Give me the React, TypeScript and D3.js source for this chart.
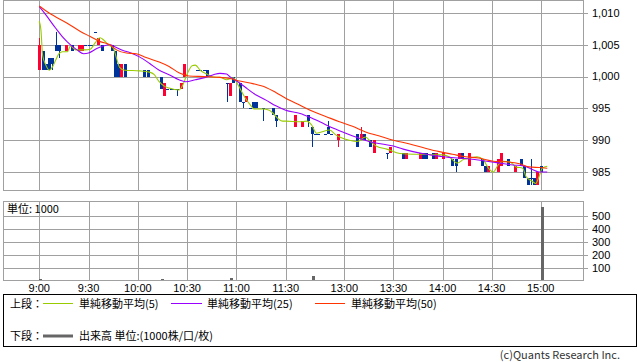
import * as React from 'react'
import * as d3 from 'd3'

// axis ticks
const priceTicks = [985, 990, 995, 1000, 1005, 1010]
const volumeTicks = [100, 200, 300, 400, 500]
const timeTicks = ['9:00', '9:30', '10:00', '10:30', '11:00', '11:30', '13:00', '13:30', '14:00', '14:30', '15:00']

// 2-minute candles
const candleTimes = [
  '9:00', '9:02', '9:04', '9:06', '9:08', '9:10', '9:12', '9:16', '9:20', '9:24',
  '9:26', '9:28', '9:30', '9:32', '9:34', '9:36', '9:38', '9:44', '9:46', '9:48',
  '9:50', '9:52', '9:56', '10:04', '10:06', '10:14', '10:16', '10:18', '10:20', '10:22',
  '10:24', '10:26', '10:28', '10:36', '10:38', '10:40', '10:42', '10:54', '10:56', '10:58',
  '11:02', '11:04', '11:06', '11:08', '11:10', '11:12', '11:16', '11:22', '11:24',
  '12:30', '12:34', '12:38', '12:40', '12:42', '12:44', '12:48', '12:50', '12:52', '12:56',
  '13:08', '13:10', '13:12', '13:16', '13:18', '13:26', '13:28', '13:36', '13:38', '13:46',
  '13:48', '13:50', '13:54', '13:56', '14:00', '14:06', '14:08', '14:10', '14:12', '14:16',
  '14:24', '14:26', '14:28', '14:34', '14:36', '14:40', '14:44', '14:48', '14:50', '14:52',
  '14:54', '14:56', '14:58', '15:00',
]
const opens = [
  1001, 1004, 1002, 1003, 1003, 1005, 1005, 1004, 1005, 1004,
  1004, 1005, 1005, 1005, 1007, 1005, 1005, 1005, 1004, 1002,
  1000, 1002, 1001, 1001, 1001, 1000, 997, 998, 998, 998,
  998, 998, 1000, 1001, 1001, 1001, 1001, 999, 997, 1000,
  999, 996, 996, 995, 996, 996, 995, 995, 994,
  992, 992, 994, 992, 991, 991, 991, 992, 991, 990,
  991, 990, 991, 990, 988, 988, 988, 988, 987, 987,
  988, 988, 988, 987, 987, 987, 987, 987, 988, 986,
  987, 986, 985, 985, 986, 987, 985, 987, 986, 984,
  984, 984, 983, 986,
]
const highs = [
  1006, 1004, 1002, 1003, 1003, 1007, 1005, 1005, 1005, 1005,
  1005, 1005, 1005, 1005, 1007, 1006, 1005, 1005, 1004, 1002,
  1002, 1002, 1001, 1001, 1001, 1000, 999, 998, 998, 998,
  998, 999, 1002, 1001, 1001, 1001, 1001, 999, 999, 1000,
  999, 996, 997, 995, 996, 996, 995, 995, 994,
  994, 993, 994, 992, 991, 991, 991, 993, 991, 991,
  991, 992, 991, 990, 990, 988, 989, 988, 988, 988,
  988, 988, 988, 988, 988, 987, 987, 988, 988, 988,
  987, 986, 986, 987, 988, 987, 986, 987, 986, 984,
  987, 984, 985, 986,
]
const lows = [
  1001, 1001, 1001, 1001, 1001, 1004, 1003, 1004, 1004, 1004,
  1004, 1005, 1005, 1005, 1007, 1005, 1004, 1004, 1000, 1000,
  1000, 1000, 1001, 1000, 1000, 998, 997, 998, 998, 998,
  997, 998, 1000, 1001, 1001, 1001, 1000, 996, 997, 999,
  996, 995, 996, 995, 995, 995, 993, 994, 992,
  992, 992, 992, 989, 991, 991, 991, 991, 991, 989,
  989, 990, 990, 989, 988, 987, 988, 987, 987, 987,
  987, 987, 987, 987, 987, 986, 985, 987, 987, 986,
  986, 985, 985, 985, 986, 986, 985, 986, 984, 983,
  983, 983, 983, 985,
]
const closes = [
  1005, 1001, 1001, 1001, 1002, 1004, 1004, 1005, 1004, 1005,
  1005, 1005, 1005, 1005, 1007, 1006, 1004, 1004, 1000, 1000,
  1002, 1000, 1001, 1000, 1000, 998, 999, 998, 998, 998,
  998, 999, 1002, 1001, 1001, 1001, 1000, 999, 999, 999,
  996, 996, 997, 995, 995, 995, 995, 994, 993,
  994, 993, 993, 991, 991, 991, 991, 991, 991, 991,
  989, 991, 990, 989, 990, 988, 989, 987, 988, 988,
  987, 987, 987, 988, 988, 986, 986, 988, 987, 988,
  986, 985, 986, 987, 988, 986, 986, 986, 984, 983,
  984, 983, 985, 985,
]

// volume (1000 shares)
const volumeTimes = ['9:00', '10:14', '10:56', '11:02', '11:04', '11:16', '11:26', '12:30', '12:40', '12:56', '13:18', '14:06', '14:08', '14:34', '14:36', '14:50', '14:52', '14:58', '15:00']
const volumes = [18, 18, 25, 15, 8, 10, 8, 8, 38, 8, 8, 8, 8, 8, 8, 8, 8, 8, 565]

// moving averages
const ma5Times = [
  '9:00', '9:01', '9:02', '9:04', '9:06', '9:08', '9:10', '9:12', '9:14', '9:17', '9:19', '9:22', '9:28', '9:31', '9:34',
  '9:37', '9:39', '9:42', '9:45', '9:47', '9:49', '9:52', '10:01', '10:07', '10:10', '10:13', '10:16', '10:19', '10:25',
  '10:27', '10:30', '10:33', '10:35', '10:38', '10:42', '10:46', '10:50', '10:54', '10:58', '11:01', '11:05', '11:08',
  '11:11', '11:16', '11:20', '11:28', '11:30', '12:33', '12:37', '12:40', '12:43', '12:46', '12:51', '12:55', '12:59',
  '13:03', '13:08', '13:13', '13:16', '13:20', '13:26', '13:34', '13:42', '13:48', '13:54', '14:00', '14:04', '14:09',
  '14:13', '14:17', '14:21', '14:25', '14:28', '14:31', '14:34', '14:37', '14:41', '14:45', '14:49', '14:51', '14:55',
  '14:57', '14:59', '15:01', '15:04',
]
const ma5Values = [
  1008.7, 1007.3, 1003.4, 1001.8, 1001.0, 1001.5, 1002.6, 1003.6, 1003.9, 1003.9, 1004.8, 1004.2, 1004.2, 1004.3, 1005.3,
  1006.1, 1005.8, 1005.0, 1004.5, 1002.9, 1001.4, 1001.0, 1000.9, 1000.7, 1000.3, 999.2, 998.5, 998.2, 997.9,
  998.5, 1000.4, 1001.7, 1001.8, 1001.0, 1000.4, 999.9, 999.9, 999.5, 999.8, 998.7, 996.8, 995.7,
  994.9, 994.9, 994.7, 993.0, 993.0, 992.9, 993.0, 992.4, 991.1, 991.3, 991.6, 990.8, 990.3,
  990.0, 989.8, 990.5, 989.8, 989.0, 988.6, 987.9, 987.8, 987.8, 987.7, 987.7, 987.4, 986.4,
  987.0, 987.2, 987.4, 986.9, 985.6, 985.0, 986.1, 986.7, 986.6, 985.8, 985.6, 984.3, 983.5,
  983.2, 984.3, 985.6, 985.9,
]
const ma25Times = [
  '9:00', '9:04', '9:10', '9:14', '9:19', '9:23', '9:27', '9:30', '9:35', '9:39', '9:43', '9:46', '9:51', '9:55', '10:01',
  '10:07', '10:13', '10:19', '10:25', '10:29', '10:35', '10:40', '10:46', '10:50', '10:54', '10:56', '11:02', '11:06',
  '11:12', '11:18', '11:24', '11:30', '12:33', '12:39', '12:45', '12:53', '12:59', '13:07', '13:15', '13:23', '13:30',
  '13:36', '13:42', '13:50', '13:58', '14:04', '14:10', '14:18', '14:27', '14:35', '14:43', '14:49', '14:55', '14:59', '15:04',
]
const ma25Values = [
  1011.0, 1009.7, 1007.6, 1006.3, 1005.0, 1004.2, 1003.6, 1003.7, 1004.4, 1004.8, 1005.0, 1004.7, 1004.1, 1003.8, 1003.1,
  1002.1, 1001.0, 1000.3, 999.5, 999.2, 999.5, 999.8, 1000.3, 1000.5, 1000.4, 1000.0, 999.0, 998.2,
  997.1, 996.3, 995.4, 994.7, 994.2, 993.6, 992.9, 991.9, 991.3, 990.5, 989.8, 989.4, 989.1,
  988.6, 988.2, 987.8, 987.5, 987.3, 987.2, 987.0, 986.7, 986.4, 986.1, 986.0, 985.4, 985.0, 985.0,
]
const ma50Times = [
  '9:00', '9:06', '9:17', '9:25', '9:31', '9:37', '9:43', '9:47', '9:53', '9:59', '10:05', '10:13', '10:19', '10:25',
  '10:31', '10:40', '10:48', '10:56', '11:02', '11:10', '11:18', '11:24', '11:30', '12:33', '12:41', '12:49', '12:57',
  '13:05', '13:13', '13:21', '13:30', '13:40', '13:50', '13:58', '14:06', '14:14', '14:22', '14:31', '14:39', '14:47',
  '14:53', '14:59', '15:04',
]
const ma50Values = [
  1011.1, 1010.0, 1008.4, 1007.1, 1006.3, 1005.5, 1005.0, 1004.2, 1003.7, 1003.6, 1003.0, 1002.3, 1001.6, 1000.6,
  1000.1, 1000.0, 999.9, 999.7, 999.3, 998.9, 998.3, 997.5, 996.6, 995.5, 994.5, 993.7, 992.9,
  992.2, 991.3, 990.7, 990.0, 989.4, 988.7, 988.2, 987.8, 987.4, 987.2, 986.7, 986.6, 986.3,
  985.8, 985.7, 985.6,
]

const toMin = (s: string) => {
  const [h, m] = s.split(':').map(Number)
  return h * 60 + m
}

const UP = '#ff0033'
const DOWN = '#003399'
const GRID = '#a0a0a0'
const FONT = '"Noto Sans CJK JP", "Noto Sans", sans-serif'
const NUM_FONT = '"Liberation Sans", Arial, sans-serif'

function App() {
  // morning and afternoon sessions share one axis; lunch break squeezed to a small gap
  const x = d3.scaleLinear().domain([540, 690, 750, 900]).range([39.3, 285.7, 295.2, 540.7])
  const y = d3.scaleLinear().domain([985, 1010]).range([172, 13])
  const yv = d3.scaleLinear().domain([0, 600]).range([281.5, 202.5])

  const left = 3.5
  const right = 583.5
  const top1 = 0.5
  const bottom1 = 190.5
  const top2 = 201.5
  const bottom2 = 280.5

  const crisp = (v: number) => Math.round(v) + 0.5

  const maLine = (times: string[], values: number[]) =>
    d3
      .line<number>()
      .x((d, i) => x(toMin(times[i])))
      .y((d) => y(d))
      .curve(d3.curveMonotoneX)(values) ?? ''

  const mas = [
    { times: ma5Times, values: ma5Values, color: '#99cc00' },
    { times: ma25Times, values: ma25Values, color: '#9900ff' },
    { times: ma50Times, values: ma50Values, color: '#ff3300' },
  ]

  return (
    <svg width={638} height={362} style={{ position: 'absolute', left: 0, top: 0, background: '#fff' }} fontFamily={FONT}>
      <rect width={638} height={362} fill="#fff" />

      {/* grids */}
      <g stroke={GRID} strokeWidth={1} shapeRendering="crispEdges">
        {priceTicks.map((p) => (
          <line key={'p' + p} x1={left} x2={right + 4} y1={crisp(y(p))} y2={crisp(y(p))} />
        ))}
        {volumeTicks.map((v) => (
          <line key={'v' + v} x1={left} x2={right + 4} y1={crisp(yv(v))} y2={crisp(yv(v))} />
        ))}
        {timeTicks.map((t) => (
          <g key={'t' + t}>
            <line x1={crisp(x(toMin(t)))} x2={crisp(x(toMin(t)))} y1={top1} y2={bottom1} />
            <line x1={crisp(x(toMin(t)))} x2={crisp(x(toMin(t)))} y1={top2} y2={bottom2} />
          </g>
        ))}
        <rect x={left} y={top1} width={right - left} height={bottom1 - top1} fill="none" />
        <rect x={left} y={top2} width={right - left} height={bottom2 - top2} fill="none" />
      </g>

      {/* candles */}
      <g shapeRendering="crispEdges">
        {candleTimes.map((t, i) => {
          const cx = Math.round(x(toMin(t)))
          const o = opens[i]
          const c = closes[i]
          const color = c > o ? UP : DOWN
          const yTop = Math.round(y(Math.max(o, c)))
          const yBot = Math.round(y(Math.min(o, c)))
          return (
            <g key={'c' + i} fill={color}>
              <rect x={cx} y={Math.round(y(highs[i]))} width={1} height={Math.max(1, Math.round(y(lows[i])) - Math.round(y(highs[i])))} />
              <rect x={cx - 1} y={yTop} width={3} height={Math.max(1, yBot - yTop)} />
            </g>
          )
        })}
      </g>

      {/* moving averages */}
      {mas.map((m, i) => (
        <path key={'ma' + i} d={maLine(m.times, m.values)} fill="none" stroke={m.color} strokeWidth={1.1} />
      ))}

      {/* volume */}
      <g fill="#666" shapeRendering="crispEdges">
        {volumeTimes.map((t, i) => (
          <rect key={'vol' + i} x={Math.round(x(toMin(t)))} y={yv(volumes[i])} width={3} height={280 - yv(volumes[i])} />
        ))}
      </g>

      {/* axes labels */}
      <g fontSize={11} fill="#000" fontFamily={NUM_FONT}>
        {priceTicks.map((p) => (
          <text key={'pl' + p} x={592} y={y(p)} dy="0.35em">
            {d3.format(',')(p)}
          </text>
        ))}
        {volumeTicks.map((v) => (
          <text key={'vl' + v} x={592} y={yv(v)} dy="0.35em">
            {v}
          </text>
        ))}
        {timeTicks.map((t) => (
          <text key={'tl' + t} x={x(toMin(t))} y={292} textAnchor="middle">
            {t}
          </text>
        ))}
      </g>
      <text x={7} y={213} fontSize={11}>単位: 1000</text>

      {/* legend */}
      <rect x={3.5} y={294.5} width={632.5} height={51.5} fill="none" stroke="#000" strokeWidth={1} shapeRendering="crispEdges" />
      <g fontSize={11} fill="#000">
        <text x={10} y={308}>上段：</text>
        <line x1={43} x2={73} y1={303.5} y2={303.5} stroke="#99cc00" />
        <text x={79} y={308}>単純移動平均(5)</text>
        <line x1={171} x2={202} y1={303.5} y2={303.5} stroke="#9900ff" />
        <text x={207} y={308}>単純移動平均(25)</text>
        <line x1={315} x2={345} y1={303.5} y2={303.5} stroke="#ff3300" />
        <text x={351} y={308}>単純移動平均(50)</text>
        <text x={10} y={340}>下段：</text>
        <line x1={43} x2={73} y1={336} y2={336} stroke="#666" strokeWidth={3} />
        <text x={79} y={340}>出来高 単位:(1000株/口/枚)</text>
      </g>
      <text x={620} y={359} fontSize={11} textAnchor="end" fill="#333">
        (c)Quants Research Inc.
      </text>
    </svg>
  )
}

export default App
